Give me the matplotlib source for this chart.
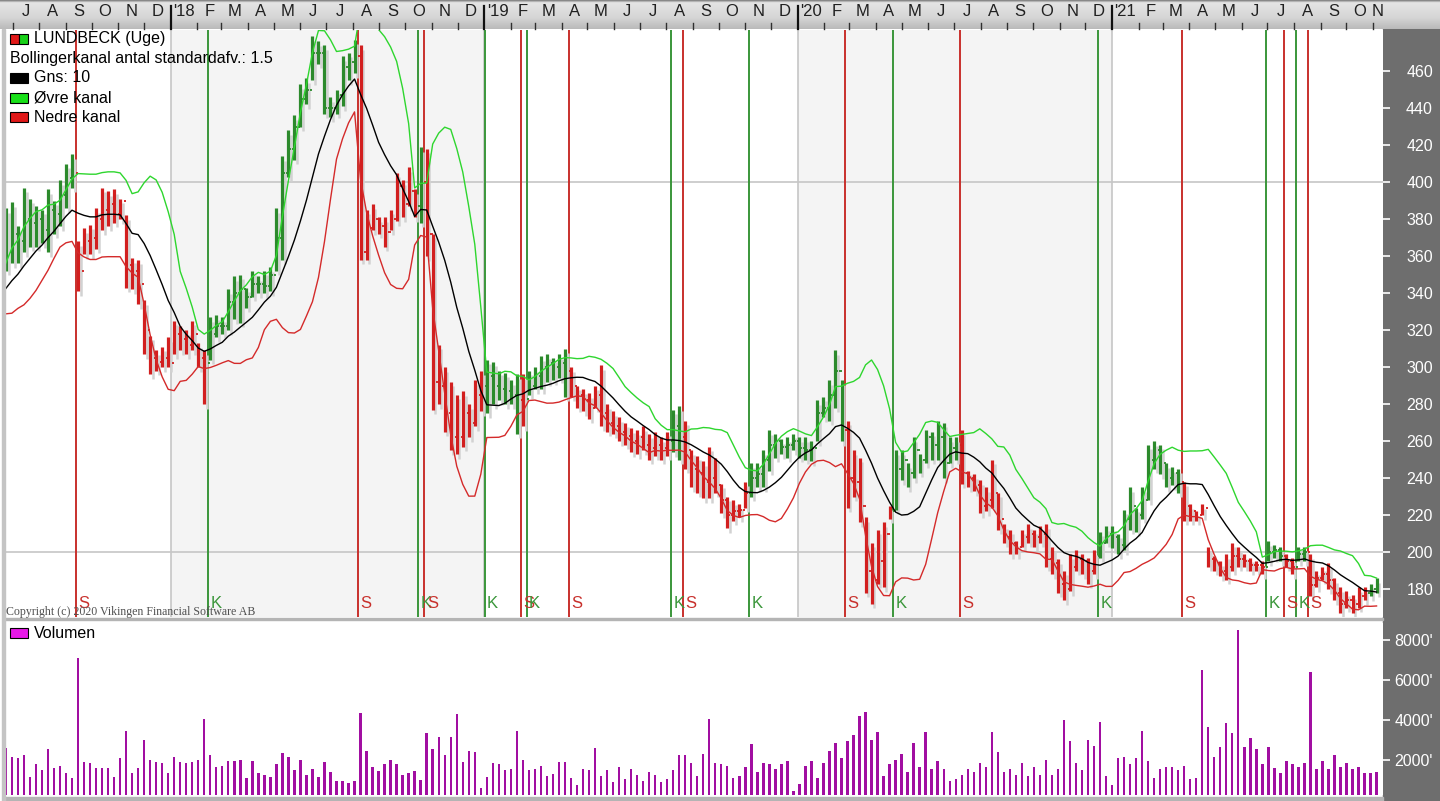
import numpy as np
import pandas as pd
import matplotlib
matplotlib.use('Agg')
import matplotlib.pyplot as plt
from matplotlib.patches import Rectangle
from matplotlib.colors import LinearSegmentedColormap

plt.rcParams['font.family'] = ['Liberation Sans', 'DejaVu Sans']

# weekly bars for LUNDBECK, first bar in the week of 23 june 2017
first_week = '2017-06-23'

# closes of the 9 weeks before the first bar (only used to start the 10-week average)
pre_close = [330, 333, 335, 338, 340, 342, 345, 348, 352]

high = [386, 389, 376, 397, 391, 387, 385, 396, 390, 401, 410, 415,
        368, 375, 377, 386, 397, 395, 396, 391, 382, 359, 358, 336, 317, 309, 311, 316, 325, 322, 320, 325, 313, 309,
        327, 328, 327, 342, 349, 350, 343, 352, 349, 352, 354, 386, 414, 428, 436, 453, 456, 479, 476, 474, 446, 450,
        468, 470, 477, 474,
        385, 388, 381, 381, 385, 405, 401, 408, 396, 419, 418,
        372, 312, 300, 292, 285, 287, 280, 293, 298, 304, 303, 298, 297, 293, 296, 296, 298, 300, 306, 307, 305, 307,
        310, 300, 290, 288, 286, 290, 301, 280, 276, 273, 270, 267, 266, 268, 264, 265, 262, 265, 277, 279, 271,
        255, 252, 249, 257, 251, 237, 230, 228, 226, 238, 248,
        248, 255, 266, 264, 261, 262, 264, 262, 262, 260, 282, 284, 293, 309, 293,
        271, 255, 251, 219, 205, 212, 216, 225,
        255, 255, 248, 262, 253, 266, 265, 271, 270, 262, 262,
        266, 244, 242, 239, 235, 250, 232, 215, 212, 206, 212, 215, 212, 214, 215, 203, 196, 190, 199, 201, 199, 197, 201,
        211, 214, 214, 210, 223, 235, 224, 235, 258, 260, 258, 248, 246, 245,
        238, 226, 222, 226, 203, 198, 195, 199, 205, 203, 199, 197, 195, 195,
        206, 204, 203, 199, 197, 203, 203,
        199, 190, 192, 194, 186, 181, 179, 177, 181, 181, 183, 186]

low = [352, 356, 356, 362, 365, 365, 367, 362, 372, 376, 386, 397,
       341, 361, 361, 364, 374, 376, 378, 380, 343, 342, 334, 307, 296, 298, 300, 300, 307, 309, 307, 309, 300, 280,
       304, 316, 318, 320, 326, 324, 332, 338, 340, 340, 341, 352, 358, 403, 412, 430, 442, 455, 464, 437, 435, 437,
       441, 455, 459, 358,
       358, 374, 372, 365, 374, 379, 381, 387, 381, 378, 360,
       277, 280, 265, 255, 253, 257, 262, 268, 276, 275, 280, 282, 280, 280, 264, 268, 285, 288, 288, 292, 293, 294,
       284, 284, 278, 276, 272, 278, 268, 265, 264, 260, 258, 254, 253, 255, 250, 252, 250, 252, 254, 250, 245,
       235, 232, 229, 229, 232, 221, 213, 217, 219, 224, 230,
       235, 235, 244, 251, 253, 251, 255, 251, 250, 249, 260, 273, 271, 278, 260,
       224, 230, 216, 178, 172, 183, 181, 218,
       223, 239, 235, 240, 243, 248, 250, 250, 240, 248, 250,
       237, 235, 233, 221, 222, 224, 212, 205, 199, 199, 203, 205, 203, 205, 192, 188, 178, 174, 179, 190, 188, 183, 188,
       197, 205, 202, 199, 201, 212, 211, 218, 228, 245, 242, 235, 236, 232,
       217, 217, 217, 220, 192, 190, 187, 185, 190, 192, 192, 190, 190, 188,
       195, 197, 195, 192, 188, 195, 195,
       176, 181, 185, 180, 174, 167, 170, 167, 170, 174, 176, 178]

close = [362, 372, 368, 380, 378, 380, 374, 385, 383, 393, 402, 405,
         352, 368, 370, 380, 385, 388, 383, 390, 355, 352, 345, 320, 305, 303, 305, 302, 318, 315, 312, 318, 305, 302,
         318, 322, 322, 335, 340, 342, 338, 345, 345, 344, 350, 370, 405, 418, 430, 445, 450, 470, 470, 440, 440, 447,
         462, 465, 468, 362,
         375, 380, 376, 373, 380, 398, 388, 395, 387, 400, 372,
         292, 290, 275, 262, 262, 275, 270, 285, 290, 295, 290, 288, 287, 285, 282, 283, 290, 295, 300, 302, 300, 302,
         298, 290, 285, 282, 278, 285, 275, 270, 268, 265, 263, 260, 262, 258, 256, 258, 256, 260, 268, 262, 255,
         245, 243, 238, 240, 236, 228, 220, 222, 223, 232, 240,
         242, 250, 258, 260, 257, 258, 260, 256, 255, 256, 275, 278, 285, 298, 266,
         240, 238, 225, 190, 185, 195, 210, 222,
         245, 250, 243, 255, 250, 262, 258, 262, 248, 256, 258,
         243, 240, 236, 225, 228, 232, 218, 208, 205, 203, 208, 210, 208, 210, 196, 194, 183, 180, 192, 196, 195, 190, 198,
         205, 210, 208, 204, 218, 225, 220, 228, 250, 255, 248, 240, 243, 238,
         225, 222, 220, 224, 196, 194, 190, 192, 198, 196, 195, 193, 193, 192,
         200, 201, 198, 195, 192, 199, 200,
         182, 186, 188, 185, 178, 172, 174, 172, 176, 178, 180, 181]

# volume in thousands of shares
volume = [2583, 2167, 2083, 2250, 1167, 1800, 1500, 2533, 1583, 1700, 1333, 1083, 7083, 1917, 1867, 1583, 1583,
          1583, 1167, 2083, 3450, 1333, 1583, 3000, 2000, 1917, 1867, 1333, 2167, 1917, 1867, 1917, 2000, 4033,
          2250, 1633, 1717, 1950, 1950, 2000, 1083, 1950, 1333, 1250, 1167, 1800, 2333, 2167, 1500, 2000, 1250,
          1533, 1167, 1917, 1417, 967, 967, 867, 967, 4333, 2467, 1633, 1467, 1800, 2000, 1800, 1250, 1333, 1467,
          1000, 3367, 2533, 3133, 2250, 3133, 4283, 1917, 2467, 2383,
          583, 1167, 1867, 1783, 1500, 1567, 3450, 2017, 1500, 1567, 1717, 1183, 1283, 1883, 1883, 1117, 733,
          1567, 1483, 2617, 1183, 1500, 883, 1633, 1050, 1567, 1250, 967, 1417, 1250, 883, 1033, 1483, 2233,
          2233, 1867, 1183, 2317, 4050, 1867, 1783, 1717, 1100, 1183, 1633, 2783, 1417, 1867, 1783, 1567, 1783,
          1950, 450, 800, 1700, 1933, 1117, 1867, 2467, 2850, 2083, 2933, 3233, 4217, 4417, 3000, 3383, 1183,
          1783, 2017, 2317, 1417, 2850, 1633, 3383, 1567, 1933, 1567, 967, 1033, 1250, 1567, 1417, 1867, 1633,
          3383, 2400, 1417, 1567, 1250, 1867, 1183, 1633, 1250, 2017, 1250, 1567, 3983, 2933, 1867, 1483, 3000,
          2700, 3900, 1183, 733, 2083, 2167, 1783, 2083, 3450, 1950, 1117, 1567, 1633, 1633, 1483, 1717, 1033, 1117,
          6500, 3667, 2167, 2667, 3833, 3367, 8500, 2667, 3083, 2533, 1800, 2667, 1583, 1333, 1933, 1800, 1633,
          1867, 6383, 1567, 1933, 1567, 2250, 1633, 1867, 1567, 1633, 1333, 1333, 1400]

# K = koeb (buy), S = saelg (sell) signals, bar index
signal_bar = [12, 34, 59, 69, 70, 80, 86, 87, 94, 111, 113, 124, 140, 148, 159, 182, 196, 210, 213, 215, 217]
signal_type = ['S', 'K', 'S', 'K', 'S', 'K', 'S', 'K', 'S', 'K', 'S', 'K', 'S', 'K', 'S', 'K', 'S', 'K', 'S', 'K', 'S']
late_flip_bar = 227  # bars turn green again at the very end, no line drawn

W, H = 1440, 801


def fx(x):
    return x / W


def fy(y):
    return 1 - y / H


dates = pd.date_range(first_week, periods=len(close), freq='7D')
day = pd.Timedelta(days=1)
closes = pd.Series(pre_close + close, dtype=float)
mid = closes.rolling(10).mean().iloc[len(pre_close):].to_numpy()
sd = closes.rolling(10).std(ddof=0).iloc[len(pre_close):].to_numpy()
upper = mid + 1.5 * sd
lower = mid - 1.5 * sd
opens = [pre_close[-1]] + close[:-1]

green, red = '#2c8a2c', '#d21f1f'
flips = dict(zip(signal_bar, signal_type))
flips[late_flip_bar] = 'K'
state = 'K'
cols = []
for i in range(len(close)):
    state = flips.get(i, state)
    cols.append(green if state == 'K' else red)

xmin, xmax = pd.Timestamp('2017-06-22'), pd.Timestamp('2021-11-12 12:00')

fig = plt.figure(figsize=(W / 100, H / 100), dpi=100)
fig.patch.set_facecolor('white')

# grey scale panel on the right and header strip
fig.patches.append(Rectangle((fx(1383), 0), fx(57), fy(29), transform=fig.transFigure,
                             color='#6e6e6e', zorder=-5))
bg = fig.add_axes([0, fy(29), 1, 29 / H])
cmap = LinearSegmentedColormap.from_list('hdr', [(0, '#7c7c7c'), (0.08, '#e4e4e4'),
                                                 (0.6, '#d6d6d6'), (1, '#bababa')])
bg.imshow(np.linspace(0, 1, 60)[:, None], aspect='auto', cmap=cmap, extent=[0, 1, 0, 1])
bg.set_axis_off()

ax = fig.add_axes([fx(5), fy(617), 1378 / W, 587 / H])
ax2 = fig.add_axes([fx(5), fy(795), 1378 / W, 172 / H], sharex=ax)
top = fig.add_axes([fx(5), fy(29), 1378 / W, 29 / H], sharex=ax)
top.patch.set_alpha(0)

# background: every other year shaded
for y0 in ['2018', '2020']:
    ax.axvspan(pd.Timestamp(y0 + '-01-01'), pd.Timestamp(str(int(y0) + 1) + '-01-01'),
               color='#f4f4f4', zorder=0, lw=0)
for y0 in ['2018', '2019', '2020', '2021']:
    ax.axvline(pd.Timestamp(y0 + '-01-01'), color='#c6c6c6', lw=1.2, zorder=1)
for lvl in [200, 400]:
    ax.axhline(lvl, color='#c6c6c6', lw=1.2, zorder=1)

# signal lines
for b, t in zip(signal_bar, signal_type):
    c = '#c8302c' if t == 'S' else '#3a963a'
    xl = dates[b] - 2.6 * day
    ax.axvline(xl, color=c, lw=1.4, zorder=2)
    ax.text(xl + 2.8 * day, 172.3, t, color=c, fontsize=12, ha='left', va='center', zorder=6)

# bar shadows and OHLC bars
ax.vlines(dates + 3.2 * day, np.array(low) - 2.5, np.array(high) - 2.5, colors='#d2d2d2', lw=1.8, zorder=2)
ax.vlines(dates, low, high, colors=cols, lw=2.3, zorder=4)
ax.hlines(close, dates, dates + 2.6 * day, colors=cols, lw=1.3, zorder=4)
ax.hlines(opens, dates - 2.6 * day, dates, colors=cols, lw=1.3, zorder=4)

# bollinger channel
ax.plot(dates, upper, color='#2ed62e', lw=1.0, zorder=5)
ax.plot(dates, mid, color='black', lw=1.0, zorder=5)
ax.plot(dates, lower, color='#d42a2a', lw=1.0, zorder=5)

ax.set_xlim(xmin, xmax)
ax.set_ylim(164.9, 482.2)
ax.set_yticks(range(180, 461, 20))
ax.yaxis.tick_right()
ax.tick_params(axis='y', colors='white', length=5, width=1.2, labelsize=11.5, pad=31)
ax.tick_params(axis='x', bottom=False, labelbottom=False)
for lbl in ax.get_yticklabels():
    lbl.set_horizontalalignment('right')
for s in ax.spines.values():
    s.set_visible(False)

# volume
ax2.bar(dates, volume, width=2.8, color='#a10ea1', zorder=3)
ax2.set_ylim(250, 8850)
ax2.set_yticks([2000, 4000, 6000, 8000])
ax2.set_yticklabels(["2000'", "4000'", "6000'", "8000'"])
ax2.yaxis.tick_right()
ax2.tick_params(axis='y', colors='white', length=5, width=1.2, labelsize=11.5, pad=31)
ax2.tick_params(axis='x', bottom=False, labelbottom=False)
for lbl in ax2.get_yticklabels():
    lbl.set_horizontalalignment('right')
for s in ax2.spines.values():
    s.set_visible(False)

# month header
tr = top.get_xaxis_transform()
letters = 'JFMAMJJASOND'
months = pd.date_range('2017-07-01', '2021-11-01', freq='MS')
for m in months:
    if m.month == 1:
        top.plot([m, m], [0.0, 0.8], color='#101010', lw=1.6, transform=tr, clip_on=False)
    else:
        top.plot([m, m], [0.0, 0.22], color='#303030', lw=1.0, transform=tr, clip_on=False)
    a = max(m, xmin)
    b = min(m + pd.offsets.MonthBegin(1), xmax)
    lab = "'%02d" % (m.year % 100) if m.month == 1 else letters[m.month - 1]
    top.text(a + (b - a) / 2, 0.6, lab, transform=tr, ha='center', va='center',
             fontsize=12, color='#202020')
top.set_xlim(xmin, xmax)
top.set_ylim(0, 1)
top.set_axis_off()

# panel frame lines
fig.patches.append(Rectangle((fx(3), fy(620)), fx(1380), 2.5 / H, transform=fig.transFigure,
                             color='#b4b4b4', zorder=10))
fig.patches.append(Rectangle((fx(3), fy(801)), fx(1380), 4 / H, transform=fig.transFigure,
                             color='#b4b4b4', zorder=10))
fig.patches.append(Rectangle((fx(2), fy(801)), fx(2.5), (801 - 29) / H, transform=fig.transFigure,
                             color='#c4c4c4', zorder=10))


# legends
def box(x, y, c, w=18):
    fig.patches.append(Rectangle((fx(x), fy(y + 5)), w / W, 10 / H, transform=fig.transFigure,
                                 facecolor=c, edgecolor='black', lw=0.8, zorder=20))


fig.patches.append(Rectangle((fx(10), fy(44)), 9 / W, 10 / H, transform=fig.transFigure,
                             facecolor='#e01818', edgecolor='black', lw=0.8, zorder=20))
fig.patches.append(Rectangle((fx(19), fy(44)), 9 / W, 10 / H, transform=fig.transFigure,
                             facecolor='#18d018', edgecolor='black', lw=0.8, zorder=20))
fig.text(fx(34), fy(39), 'LUNDBECK (Uge)', fontsize=11.5, va='center', ha='left', zorder=20)
fig.text(fx(10), fy(59), 'Bollingerkanal antal standardafv.: 1.5', fontsize=11.5, va='center', ha='left', zorder=20)
box(10, 78, 'black')
fig.text(fx(34), fy(78), 'Gns: 10', fontsize=11.5, va='center', ha='left', zorder=20)
box(10, 98, '#18e018')
fig.text(fx(34), fy(98), 'Øvre kanal', fontsize=11.5, va='center', ha='left', zorder=20)
box(10, 117, '#e01818')
fig.text(fx(34), fy(117), 'Nedre kanal', fontsize=11.5, va='center', ha='left', zorder=20)
box(10, 633, '#e818e8')
fig.text(fx(34), fy(633), 'Volumen', fontsize=11.5, va='center', ha='left', zorder=20)

fig.text(fx(6), fy(612), 'Copyright (c) 2020 Vikingen Financial Software AB', fontsize=8.6,
         family='Liberation Serif', color='#505050', va='center', ha='left', zorder=20)

fig.savefig('out.png', dpi=100)
